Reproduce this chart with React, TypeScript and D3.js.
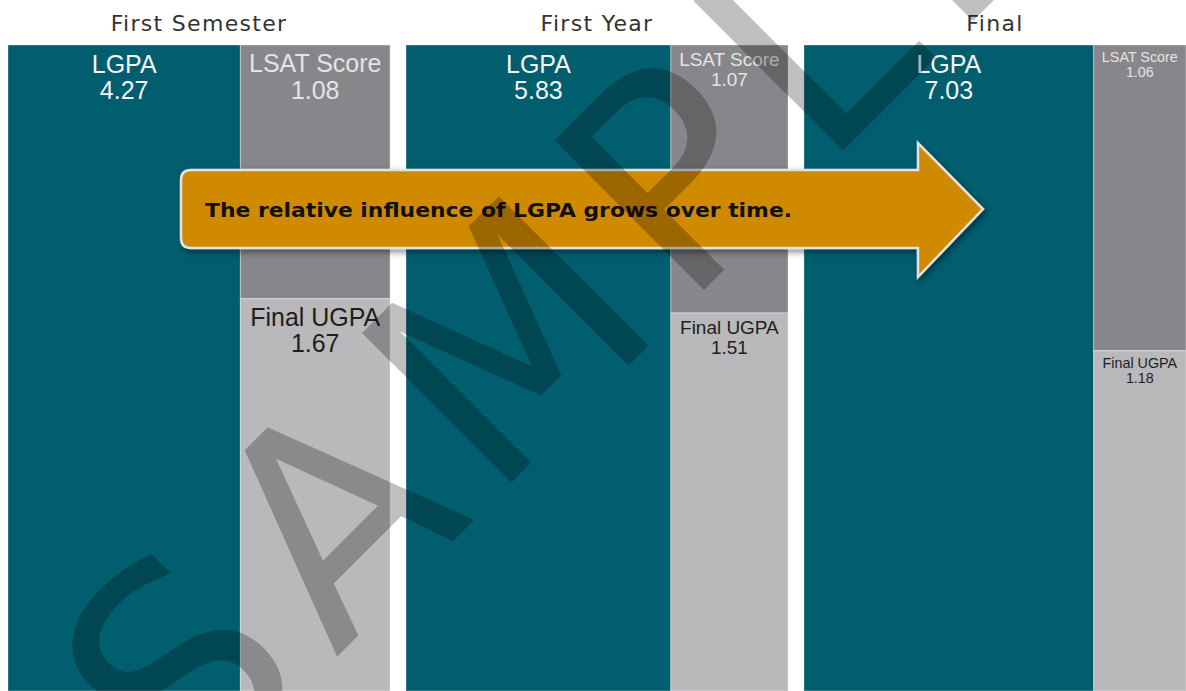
import * as d3 from 'd3'

// stages and factor weights
const stages = ['First Semester', 'First Year', 'Final']
const lgpa = [4.27, 5.83, 7.03]
const lsat = [1.08, 1.07, 1.06]
const ugpa = [1.67, 1.51, 1.18]
const factorNames = ['LGPA', 'LSAT Score', 'Final UGPA']
const note = 'The relative influence of LGPA grows over time.'

const W = 1186
const H = 691
const TOP = 45

const fills: Record<string, string> = {
  'LGPA': '#005e6f',
  'LSAT Score': '#87878b',
  'Final UGPA': '#b9b9bb',
}
const inks: Record<string, string> = {
  'LGPA': '#f4f4f4',
  'LSAT Score': '#e4e4e4',
  'Final UGPA': '#1e1e1e',
}

type Leaf = { name: string; value?: number; children?: Leaf[] }

export default function App() {
  const x = d3.scaleBand<string>().domain(stages).range([8, W]).paddingInner(0.04).paddingOuter(0)
  const bw = x.bandwidth()

  const panels = stages.map((s, i) => {
    const data: Leaf = {
      name: s,
      children: [
        { name: factorNames[0], value: lgpa[i] },
        { name: 'rest', children: [
          { name: factorNames[1], value: lsat[i] },
          { name: factorNames[2], value: ugpa[i] },
        ] },
      ],
    }
    const root = d3.hierarchy<Leaf>(data).sum(d => d.value ?? 0)
    d3.treemap<Leaf>().tile(d3.treemapSliceDice).size([bw, H - TOP]).padding(0)(root)
    const leaves = (root as d3.HierarchyRectangularNode<Leaf>).leaves()
    // side boxes shrink their labels to fit the column width
    const side = leaves[1].x1 - leaves[1].x0
    const sideFs = Math.min(25, (side - 15) / 5.39)
    return { stage: s, x0: x(s)!, leaves, sideFs }
  })

  // arrow geometry
  const ax0 = 181, ax1 = 918, ay0 = 170, ay1 = 248, tipX = 983, headTop = 143, headBot = 277, r = 10
  const ayMid = (ay0 + ay1) / 2
  const arrow = d3.path()
  arrow.moveTo(ax0 + r, ay0)
  arrow.lineTo(ax1, ay0)
  arrow.lineTo(ax1, headTop)
  arrow.lineTo(tipX, ayMid)
  arrow.lineTo(ax1, headBot)
  arrow.lineTo(ax1, ay1)
  arrow.lineTo(ax0 + r, ay1)
  arrow.quadraticCurveTo(ax0, ay1, ax0, ay1 - r)
  arrow.lineTo(ax0, ay0 + r)
  arrow.quadraticCurveTo(ax0, ay0, ax0 + r, ay0)
  arrow.closePath()

  return (
    <div style={{ position: 'absolute', left: 0, top: 0 }}>
      <svg width={W} height={H} style={{ display: 'block', background: '#fff' }}>
        <defs>
          <filter id="shadow" x="-10%" y="-30%" width="120%" height="160%">
            <feDropShadow dx="2" dy="3" stdDeviation="3" floodColor="#000" floodOpacity="0.45" />
          </filter>
        </defs>

        {panels.map(p => (
          <g key={p.stage} transform={`translate(${p.x0},${TOP})`}>
            <text x={bw / 2} y={-14} textAnchor="middle" fontFamily="DejaVu Sans" fontSize={22}
              letterSpacing={1.3} fill="#333">
              {p.stage}
            </text>
            {p.leaves.map(l => {
              const w = l.x1 - l.x0
              const fs = l.data.name === 'LGPA' ? 25 : p.sideFs
              const y1 = l.y0 + fs + 2.5
              return (
                <g key={l.data.name}>
                  <rect x={l.x0} y={l.y0} width={w} height={l.y1 - l.y0}
                    fill={fills[l.data.name]} stroke="rgba(255,255,255,0.35)" strokeWidth={1} />
                  <text textAnchor="middle" fontFamily="Liberation Sans, Arial" fontSize={fs} fill={inks[l.data.name]}>
                    <tspan x={(l.x0 + l.x1) / 2} y={y1}>{l.data.name}</tspan>
                    <tspan x={(l.x0 + l.x1) / 2} y={y1 + fs * 1.05}>{(l.value ?? 0).toFixed(2)}</tspan>
                  </text>
                </g>
              )
            })}
          </g>
        ))}

        <path d={arrow.toString()} fill="#d08a00" stroke="#e2e2e2" strokeWidth={2.5} filter="url(#shadow)" />
        <text x={205} y={217} fontFamily="DejaVu Sans" fontWeight="bold" fontSize={20} fill="#111"
          textLength={587} lengthAdjust="spacingAndGlyphs">
          {note}
        </text>

        <text transform="translate(642,352) rotate(-45)" textAnchor="middle" fontFamily="DejaVu Sans"
          fontSize={290} letterSpacing={22} fill="#000" fillOpacity={0.25}>
          SAMPLE
        </text>
      </svg>
    </div>
  )
}
